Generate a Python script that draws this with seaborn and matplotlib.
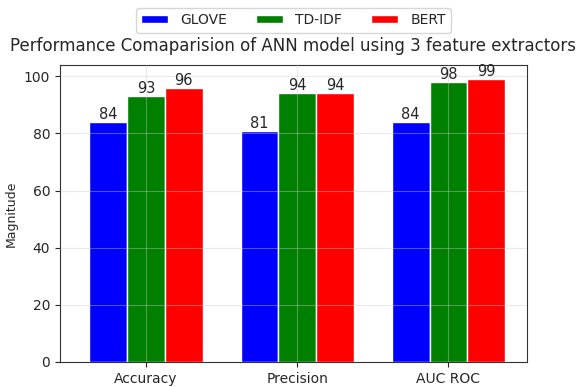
import matplotlib
matplotlib.use("Agg")
import matplotlib.pyplot as plt
import pandas as pd
import seaborn as sns

sns.set_style("ticks")
plt.rcParams["font.family"] = ["DejaVu Sans"]

metrics = ["Accuracy", "Precision", "AUC ROC"]
extractors = ["GLOVE", "TD-IDF", "BERT"]
glove = [84, 81, 84]
tdidf = [93, 94, 98]
bert = [96, 94, 99]
colors = ["blue", "green", "red"]

df = pd.DataFrame({
    "metric": metrics * 3,
    "extractor": [e for e in extractors for _ in metrics],
    "value": glove + tdidf + bert,
})

fig, ax = plt.subplots(figsize=(5.87, 3.87), dpi=100)
sns.barplot(data=df, x="metric", y="value", hue="extractor", palette=colors,
            width=0.75, edgecolor="white", linewidth=1, saturation=1, ax=ax)

for c in ax.containers:
    ax.bar_label(c, fmt="%d", fontsize=10.5, padding=0)

ax.grid(True, alpha=0.4)
ax.set_axisbelow(False)
for s in ax.spines.values():
    s.set_color("#333333")
ax.set_xlim(-0.57, 2.52)
ax.set_xlabel("")
ax.set_ylabel("Magnitude", fontsize=9)
ax.tick_params(labelsize=10)
ax.set_title("Performance Comaparision of ANN model using 3 feature extractors",
             fontsize=12, pad=10)
ax.legend(loc="lower center", bbox_to_anchor=(0.5, 1.085), ncol=3, fontsize=10,
          handlelength=1.9, handleheight=0.5, handletextpad=0.9,
          columnspacing=2.1, frameon=True)

fig.subplots_adjust(left=0.102, right=0.898, top=0.832, bottom=0.065)
fig.savefig("out.png", dpi=100)
